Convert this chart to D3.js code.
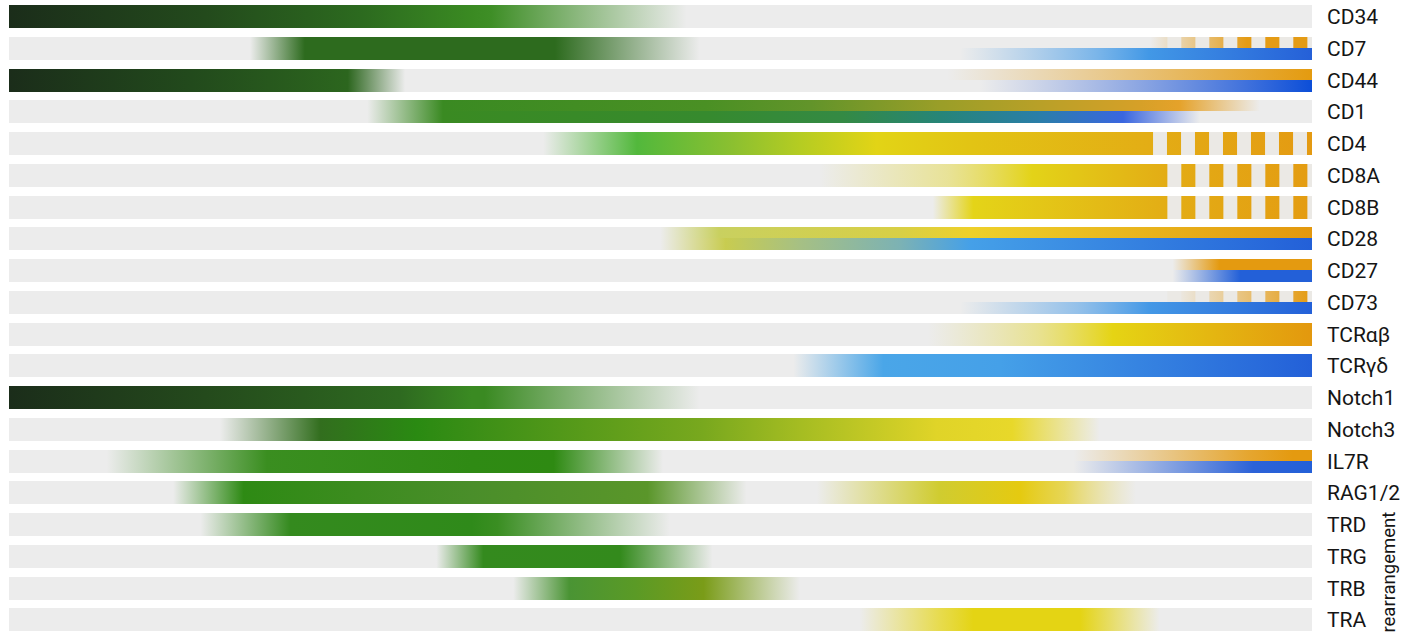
<!DOCTYPE html>
<html>
<head>
<meta charset="utf-8">
<script src="https://cdn.jsdelivr.net/npm/d3@7"></script>
<style>
  body { margin: 0; background: #fff; }
  text { font-family: Roboto, "Noto Sans", sans-serif; fill: #151515; }
</style>
</head>
<body>
<script>
// markers, top to bottom
const genes = ["CD34", "CD7", "CD44", "CD1", "CD4", "CD8A", "CD8B", "CD28", "CD27", "CD73",
  "TCRαβ", "TCRγδ", "Notch1", "Notch3", "IL7R", "RAG1/2", "TRD", "TRG", "TRB", "TRA"];

// gradient stops along development (0-100): [position, colour, opacity]
const topStops = [
  [[0,"#1b2d1a",1],[15,"#234a1c",1],[27,"#2c6a1f",1],[35.5,"#3a8a22",1],[37,"#3e8e26",1],[52,"#3e8e26",0]],
  [[18.5,"#2d6b1e",0],[22.7,"#2d6b1e",1],[41.9,"#2d6b1e",1],[53,"#2d6b1e",0],[87.6,"#e49b15",0],[95,"#e49b15",1],[100,"#e49b15",1]],
  [[0,"#1b2d1a",1],[14,"#224a1c",1],[26,"#2c661e",1],[30.4,"#2c661e",0],[72,"#e49b10",0],[100,"#e49b0f",1]],
  [[27.5,"#3a8a22",0],[33.3,"#3a8a22",1],[53.5,"#4a9024",1],[61.5,"#62942a",1],[71.5,"#9a9e28",1],[79,"#b8a028",1],[86.8,"#d6a028",1],[89.8,"#e5a22a",1],[96,"#e5a22a",0]],
  [[41,"#52b83c",0],[48.2,"#52b83c",1],[55.6,"#8cc030",1],[60.7,"#b5cc22",1],[66.6,"#e2d416",1],[73.8,"#e2c414",1],[87.6,"#e3ad15",1],[100,"#e49a12",1]],
  [[62.2,"#e6dc60",0],[72,"#e6dc60",0.6],[78.5,"#e3d318",1],[88.9,"#e3ac15",1],[100,"#e49c12",1]],
  [[70.9,"#e4d418",0],[74,"#e4d418",1],[88.9,"#e3ad15",1],[100,"#e49c12",1]],
  [[50,"#c5cd50",0],[54.5,"#c5cd50",0.9],[68.4,"#d8cf45",1],[73.8,"#eed02a",1],[100,"#e3980e",1]],
  [[89.3,"#e49a10",0],[92.9,"#e49a10",1],[100,"#e49a10",1]],
  [[89.3,"#e49a10",0],[100,"#e49a10",1]],
  [[70.5,"#e6dc80",0],[79,"#e6dc60",0.65],[84.7,"#e5d414",1],[100,"#e3980e",1]],
  [[60.2,"#4aa6e8",0],[67.1,"#4aa6e8",1],[76.1,"#45a0e8",1],[100,"#2360d8",1]],
  [[0,"#1b2d1a",1],[15,"#244a1c",1],[30,"#2e6a20",1],[35.5,"#3a8a22",1],[36.5,"#3a8a22",1],[53,"#3a8a22",0]],
  [[16.2,"#326e1e",0],[23.9,"#326e1e",1],[31.3,"#2a8a12",1],[35.5,"#3a8e16",1],[53.2,"#78a81e",1],[60.9,"#a6bd22",1],[71.2,"#e0d428",1],[77,"#e8d82a",1],[83.7,"#e8d82a",0]],
  [[7.5,"#3a8e20",0],[19.8,"#3a8e20",1],[35.5,"#2f8a14",1],[41.8,"#2e8a12",1],[50.2,"#2e8a12",0],[81.7,"#e49a10",0],[95,"#e49a10",0.85],[98.5,"#e49a10",1]],
  [[12.6,"#2e8a14",0],[18,"#2e8a14",1],[35.5,"#4a8e2a",1],[49,"#5a962a",1],[56.6,"#5a962a",0],[62,"#d0cc30",0],[71.4,"#d0cc30",1],[77.6,"#e5ca10",1],[81,"#e5d030",0.8],[86.5,"#e5d870",0]],
  [[14.7,"#348a1e",0],[21.6,"#348a1e",1],[35.5,"#2f8a1a",1],[37.5,"#3a8e22",1],[50.7,"#3a8e22",0]],
  [[32.8,"#348a1e",0],[36.4,"#348a1e",1],[46.9,"#338a1c",1],[54,"#338a1c",0]],
  [[38.7,"#4a9434",0],[43,"#4a9434",1],[48,"#5a9a26",1],[53.3,"#7a9c18",1],[60.7,"#7a9c18",0]],
  [[65.3,"#e6d830",0],[71.5,"#e6d830",0.85],[74,"#e4d414",1],[82.2,"#e4d414",1],[88.3,"#e4d414",0]]
];

// lower half where the bar splits into two lineages (null = same as top)
const bottomStops = [
  null,
  [[18.5,"#2d6b1e",0],[22.7,"#2d6b1e",1],[41.9,"#2d6b1e",1],[53,"#2d6b1e",0],[73,"#5aa4e8",0],[83.5,"#4a9ee8",0.7],[87.5,"#4298e6",1],[100,"#2560d8",1]],
  [[0,"#1b2d1a",1],[14,"#224a1c",1],[26,"#2c661e",1],[30.4,"#2c661e",0],[74.5,"#3a66d8",0],[100,"#0c4ed8",1]],
  [[27.5,"#3a8a22",0],[33.3,"#3a8a22",1],[53.5,"#368a2e",1],[64,"#348a44",1],[71.5,"#268578",1],[79,"#2a7ea8",1],[85.5,"#3a66e0",1],[91.4,"#3a66e0",0]],
  null, null, null,
  [[50,"#c8cc50",0],[55,"#c8cc50",1],[60.7,"#a6c084",1],[68.4,"#7cb2b4",1],[73.8,"#45a0e8",1],[100,"#2360d8",1]],
  [[89.3,"#2360d8",0],[94.5,"#2360d8",1],[100,"#2360d8",1]],
  [[73,"#5aa4e8",0],[82,"#5aa4e8",0.6],[87.5,"#4498e6",1],[100,"#2360d8",1]],
  null, null, null, null,
  [[7.5,"#3a8e20",0],[19.8,"#3a8e20",1],[35.5,"#2f8a14",1],[41.8,"#2e8a12",1],[50.2,"#2e8a12",0],[81.7,"#2c62d8",0],[95.5,"#2c62d8",1],[100,"#2360d8",1]],
  null, null, null, null, null
];

// where the striped (intermittent) expression begins, null = none
const dashStart = [null, 88.9, null, null, 87.8, 88.9, 88.9, null, null, 88.9,
  null, null, null, null, null, null, null, null, null, null];

const rearranged = ["TRD", "TRG", "TRB", "TRA"];

const width = 1406, height = 635;
const barBg = "#ececec";

const svg = d3.select("body").append("svg")
  .attr("width", width)
  .attr("height", height);

const x = d3.scaleLinear().domain([0, 100]).range([9, 1312]);
const y = d3.scaleBand().domain(genes).range([5, 631.25]).paddingInner(0.2756).paddingOuter(0);

const defs = svg.append("defs");

function addGradient(id, stops) {
  const g = defs.append("linearGradient")
    .attr("id", id)
    .attr("gradientUnits", "userSpaceOnUse")
    .attr("x1", x(0)).attr("x2", x(100))
    .attr("y1", 0).attr("y2", 0);
  g.selectAll("stop").data(stops).enter().append("stop")
    .attr("offset", d => d[0] / 100)
    .attr("stop-color", d => d[1])
    .attr("stop-opacity", d => d[2]);
}

const rows = svg.selectAll("g.row")
  .data(genes)
  .enter().append("g")
  .attr("class", "row")
  .attr("transform", d => "translate(0," + Math.round(y(d)) + ")");

rows.each(function(name, i) {
  const g = d3.select(this);
  const h = Math.round(y.bandwidth());
  const half = Math.floor(h / 2);
  const split = bottomStops[i] != null;

  g.append("rect")
    .attr("x", x(0)).attr("width", x(100) - x(0))
    .attr("y", 0).attr("height", h)
    .attr("fill", barBg);

  addGradient("top" + i, topStops[i]);
  g.append("rect")
    .attr("x", x(0)).attr("width", x(100) - x(0))
    .attr("y", 0).attr("height", split ? half : h)
    .attr("fill", "url(#top" + i + ")");

  if (split) {
    addGradient("bot" + i, bottomStops[i]);
    g.append("rect")
      .attr("x", x(0)).attr("width", x(100) - x(0))
      .attr("y", half).attr("height", h - half)
      .attr("fill", "url(#bot" + i + ")");
  }

  // gaps of the striped segment
  if (dashStart[i] != null) {
    const period = 2.149, gap = 1.07;
    const gaps = d3.range(dashStart[i], 100, period);
    g.selectAll("rect.gap").data(gaps).enter().append("rect")
      .attr("class", "gap")
      .attr("x", d => x(d))
      .attr("width", d => x(Math.min(d + gap, 100)) - x(d))
      .attr("y", 0)
      .attr("height", split ? half : h)
      .attr("fill", "#ebe9e5");
  }

  g.append("text")
    .attr("x", 1327)
    .attr("y", h / 2)
    .attr("dy", "0.34em")
    .style("font-size", "21px")
    .text(name);
});

// side label for the TCR loci
const ry = (y(rearranged[0]) + y(rearranged[rearranged.length - 1]) + y.bandwidth()) / 2;
svg.append("text")
  .attr("transform", "translate(1395," + ry + ")rotate(-90)")
  .attr("text-anchor", "middle")
  .style("font-size", "18.5px")
  .text("rearrangement");
</script>
</body>
</html>
